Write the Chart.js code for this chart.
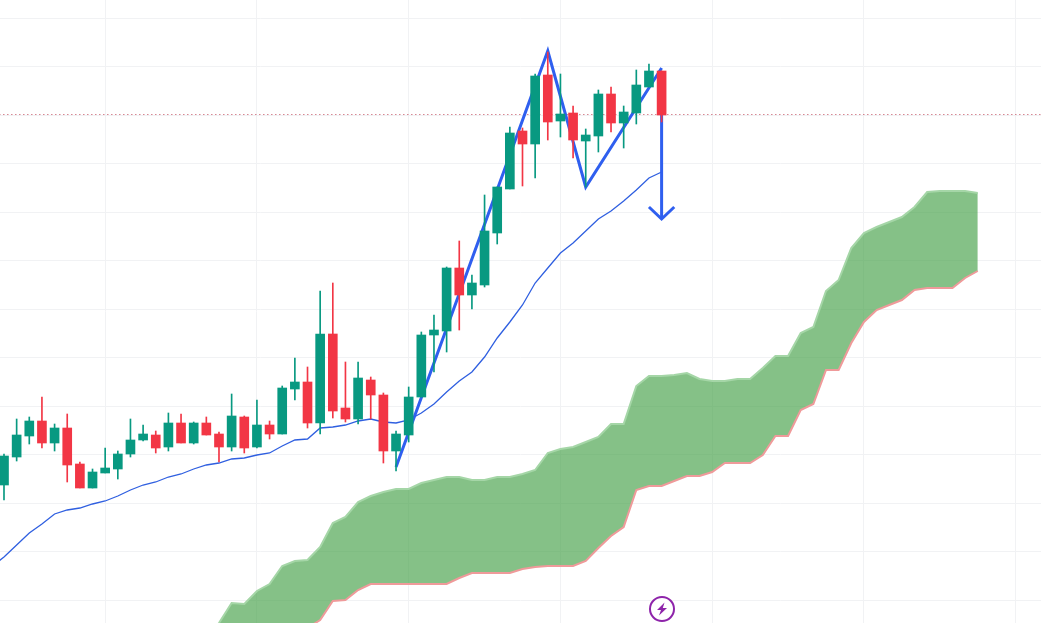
<!DOCTYPE html>
<html>
<head>
<meta charset="utf-8">
<title>Candles</title>
<script src="https://cdn.jsdelivr.net/npm/chart.js@4/dist/chart.umd.js"></script>
<style>
  html, body { margin: 0; padding: 0; background: #fff; overflow: hidden; }
  canvas { display: block; }
</style>
</head>
<body>
<canvas id="myChart" width="1041" height="623"></canvas>
<script>
const opens = [138,166,187,202,180,195,159,135,150,154,169,183,188,176,200,180,200,189,176,206,176,198,189,234,241,200,289,215,204,243,228,172,188,226,288,292,355,328,338,390,434,492,479,548,502,510,482,487,529,500,510,536,552];
const closes = [167,188,202,180,195,158,135,151,155,169,183,189,175,200,180,200,188,176,207,175,198,189,235,241,200,289,212,204,245,228,172,189,226,288,293,355,328,340,392,436,490,479,547,501,509,483,488,529,500,511,538,552,508];
const highs = [169,204,206,226,199,209,161,154,175,172,204,198,192,210,209,201,206,191,229,207,223,202,237,265,256,332,340,261,261,246,230,192,236,291,308,356,382,348,428,436,496,495,549,571,549,517,494,533,536,517,553,559,552];
const lows = [123,162,179,175,172,141,135,135,150,144,166,182,170,172,180,179,188,161,172,170,175,184,189,223,195,189,205,201,199,204,160,152,181,226,251,271,293,314,336,379,434,437,445,483,486,465,436,471,491,475,499,536,501];

// moving average, starts one bar before the first candle
const emaStart = -1;
const emaValues = [56,66,78,90,99,109,113,115,119,122,127,133,138,141,146,149,154,158,160,164,165,168,170,177,183,184,195,196,198,202,204,201,200,203,210,219,231,242,251,266,285,301,318,340,355,370,380,392,404,412,422,433,445,451];

// cloud, runs 25 bars past the last candle
const cloudStart = 16;
const cloudTop = [-17,0,20,19,32,39,57,62,63,76,100,106,121,127,131,134,134,140,143,146,146,143,143,146,146,149,153,170,174,176,181,186,199,199,237,247,247,248,250,244,242,242,244,244,255,267,267,290,296,332,343,375,390,396,401,406,416,431,432,432,432,430];
const cloudBottom = [-47,-44,-40,-35,-30,-25,-20,-12,-5,3,22,23,33,39,39,39,39,39,39,39,45,50,50,50,50,54,56,57,57,57,62,75,87,96,133,137,137,142,147,147,151,160,160,160,168,187,187,213,219,253,253,280,301,313,318,323,333,335,335,335,345,352];

// hand drawn pattern and target arrow
const patternBars = [31,43,46,52];
const patternPrices = [156,572,436,555];
const shaftBars = [52,52];
const shaftPrices = [552,404];
const headBars = [51,52,53];
const headPrices = [416,404,416];

const lastPrice = 508.5;
const markerBar = 52.03;
const markerPrice = 14;

const priceTicks = [22.7,71.2,119.7,168.2,216.7,265.2,313.7,362.2,410.7,459.2,507.7,556.2,604.7];
const timeTicks = [8,20,32,44,56,68,80];

const UP = '#089981';
const DOWN = '#F23645';
const BLUE = '#2f5fef';
const GRID = '#f1f2f4';

const toXY = (xs, ys) => ys.map((y, i) => ({ x: xs[i], y: y }));
const fromStart = (start, ys) => ys.map((y, i) => ({ x: start + i, y: y }));
const candleColors = closes.map((c, i) => (c >= opens[i] ? UP : DOWN));

function lineSet(data, color, width, order) {
    return {
        type: 'line',
        data: data,
        borderColor: color,
        borderWidth: width,
        pointRadius: 0,
        tension: 0,
        fill: false,
        order: order,
    };
}

// purple circle with the lightning bolt
function makeMarker() {
    const c = document.createElement('canvas');
    c.width = 28;
    c.height = 28;
    const g = c.getContext('2d');
    g.strokeStyle = '#8e24aa';
    g.fillStyle = '#fff';
    g.lineWidth = 2;
    g.beginPath();
    g.arc(14, 14, 12, 0, Math.PI * 2);
    g.fill();
    g.stroke();
    g.fillStyle = '#8e24aa';
    g.beginPath();
    g.moveTo(16.5, 7.5);
    g.lineTo(9, 15);
    g.lineTo(13, 15);
    g.lineTo(11, 20.5);
    g.lineTo(19, 13);
    g.lineTo(14.8, 13);
    g.closePath();
    g.fill();
    return c;
}

const ctx = document.getElementById('myChart').getContext('2d');

new Chart(ctx, {
    data: {
        datasets: [
            {
                type: 'line',
                data: [{ x: markerBar, y: markerPrice }],
                showLine: false,
                pointStyle: makeMarker(),
                order: 0,
            },
            {
                type: 'bar',
                data: opens.map((o, i) => ({ x: i, y: [o, closes[i]] })),
                backgroundColor: candleColors,
                barThickness: 9,
                grouped: false,
                order: 1,
            },
            {
                type: 'bar',
                data: highs.map((h, i) => ({ x: i, y: [lows[i], h] })),
                backgroundColor: candleColors,
                barThickness: 1,
                grouped: false,
                order: 2,
            },
            lineSet(toXY(patternBars, patternPrices), BLUE, 3, 3),
            lineSet(toXY(shaftBars, shaftPrices), BLUE, 3, 3),
            lineSet(toXY(headBars, headPrices), BLUE, 3, 3),
            lineSet(fromStart(emaStart, emaValues), '#2f5fe0', 1.3, 4),
            {
                type: 'line',
                data: [{ x: -1, y: lastPrice }, { x: 83, y: lastPrice }],
                borderColor: '#c2485a',
                borderWidth: 1,
                borderDash: [1, 3],
                pointRadius: 0,
                order: 5,
            },
            lineSet(fromStart(cloudStart, cloudBottom), '#ef9a9a', 2, 6),
            {
                type: 'line',
                data: fromStart(cloudStart, cloudTop),
                borderColor: '#a5d6a7',
                borderWidth: 2,
                backgroundColor: 'rgba(67, 160, 71, 0.65)',
                pointRadius: 0,
                tension: 0,
                fill: { target: 8 },
                order: 7,
            },
        ],
    },
    options: {
        responsive: false,
        animation: false,
        layout: { padding: 0, autoPadding: false },
        plugins: { legend: { display: false }, tooltip: { enabled: false } },
        scales: {
            x: {
                type: 'linear',
                offset: false,
                min: -0.316,
                max: 82,
                border: { display: false },
                grid: { color: GRID, drawTicks: false, tickLength: 0, offset: false },
                ticks: { display: false },
                afterBuildTicks: (axis) => { axis.ticks = timeTicks.map(v => ({ value: v })); },
            },
            y: {
                type: 'linear',
                min: 0,
                max: 623,
                border: { display: false },
                grid: { color: GRID, drawTicks: false, tickLength: 0 },
                ticks: { display: false },
                afterBuildTicks: (axis) => { axis.ticks = priceTicks.map(v => ({ value: v })); },
            },
        },
    },
});
</script>
</body>
</html>
